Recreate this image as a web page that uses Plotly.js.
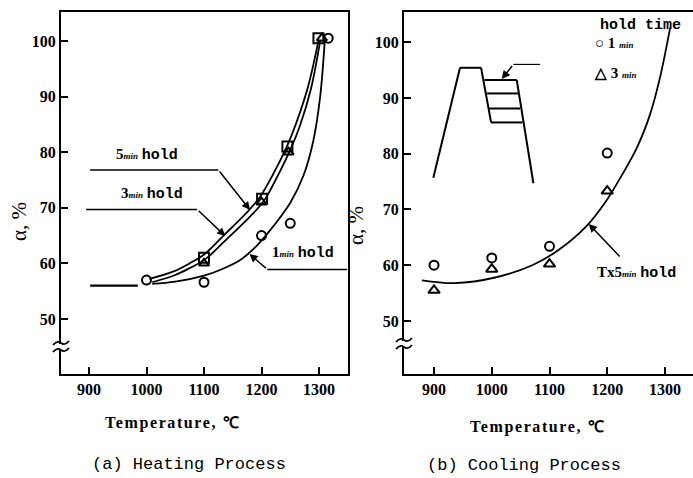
<!DOCTYPE html>
<html><head><meta charset="utf-8">
<script src="https://cdn.plot.ly/plotly-3.0.1.min.js"></script>
<style>html,body{margin:0;padding:0;background:#fff}#c{width:693px;height:478px}</style>
</head><body><div id="c"></div>
<script>
// ---- data: (a) Heating process ----
const tempTicks = [900, 1000, 1100, 1200, 1300];
const alphaTicks = [50, 60, 70, 80, 90, 100];

const heatFlatT = [902, 985];
const heatFlatA = [56, 56];

const heat5CurveT = [1005, 1046, 1075, 1099, 1134, 1174, 1197, 1220, 1244, 1261, 1281, 1299];
const heat5CurveA = [57.2, 58.5, 60.0, 61.5, 65.0, 69.1, 71.9, 76.0, 81.0, 85.4, 91.8, 100];
const heat3CurveT = [1010, 1050, 1078, 1103, 1140, 1180, 1204, 1227, 1250, 1267, 1286, 1302];
const heat3CurveA = [56.6, 57.9, 59.3, 60.8, 64.4, 68.4, 71.2, 75.5, 80.4, 84.8, 91.4, 100];
const heat1CurveT = [1010, 1050, 1100, 1130, 1163, 1192, 1220, 1250, 1273, 1290, 1302, 1310];
const heat1CurveA = [56.3, 56.7, 57.8, 58.9, 60.6, 63.2, 66.6, 70.9, 75.8, 82.0, 90, 100];

const heat1minT = [1000, 1100, 1200, 1250, 1316];
const heat1minA = [57, 56.6, 65, 67.2, 100.5];
const heat3minT = [1100, 1200, 1247, 1305];
const heat3minA = [60, 71, 80, 100.5];
const heat5minT = [1100, 1201, 1245, 1299];
const heat5minA = [61, 71.6, 81, 100.5];

// ---- data: (b) Cooling process ----
const coolCurveT = [879, 936, 1006, 1070, 1118, 1164, 1196, 1216, 1251, 1274, 1291, 1309];
const coolCurveA = [57.3, 56.8, 57.8, 60, 62.9, 67.0, 71.2, 74.5, 81.0, 87.0, 93.5, 102.6];
const cool1minT = [900, 1000, 1100, 1200];
const cool1minA = [60, 61.3, 63.4, 80.1];
const cool3minT = [900, 1000, 1100, 1200];
const cool3minA = [55.5, 59.3, 60.2, 73.3];

// ---- drawing ----
const W = 693, H = 478;
const px = v => v / W, py = v => 1 - v / H;
const SERIF = 'Liberation Serif', MONO = 'Liberation Mono';

function line(x, y, xa, ya, w) {
  return {type: 'scatter', mode: 'lines', x, y, xaxis: xa, yaxis: ya,
    line: {color: '#000', width: w || 1.8, shape: 'spline', smoothing: 1}, hoverinfo: 'skip'};
}
function pts(x, y, xa, ya, sym, sz) {
  return {type: 'scatter', mode: 'markers', x, y, xaxis: xa, yaxis: ya,
    marker: {symbol: sym, size: sz, color: '#000', line: {color: '#000', width: 2}}, hoverinfo: 'skip'};
}

const traces = [
  line(heatFlatT, heatFlatA, 'x', 'y', 2.2),
  line(heat5CurveT, heat5CurveA, 'x', 'y'),
  line(heat3CurveT, heat3CurveA, 'x', 'y'),
  line(heat1CurveT, heat1CurveA, 'x', 'y'),
  pts(heat1minT, heat1minA, 'x', 'y', 'circle-open', 9),
  pts(heat3minT, heat3minA, 'x', 'y', 'triangle-up-open', 9),
  pts(heat5minT, heat5minA, 'x', 'y', 'square-open', 10),
  line(coolCurveT, coolCurveA, 'x2', 'y2'),
  pts(cool1minT, cool1minA, 'x2', 'y2', 'circle-open', 9),
  pts(cool3minT, cool3minA, 'x2', 'y2', 'triangle-up-open', 10)
];

const tickFont = {family: SERIF, size: 16, color: '#000', weight: 'bold'};
function xax(dom, rng, anchor) {
  return {domain: dom, range: rng, anchor, tickvals: tempTicks, ticktext: tempTicks.map(String),
    ticks: 'inside', ticklen: 7, tickwidth: 2, tickcolor: '#000', showline: true, linewidth: 2,
    linecolor: '#000', mirror: true, showgrid: false, zeroline: false, tickfont: tickFont, fixedrange: true};
}
function yax(dom, rng, anchor) {
  return {domain: dom, range: rng, anchor, tickvals: alphaTicks, ticktext: alphaTicks.map(String),
    ticks: 'inside', ticklen: 7, tickwidth: 2, tickcolor: '#000', showline: true, linewidth: 2,
    linecolor: '#000', mirror: true, showgrid: false, zeroline: false, tickfont: tickFont,
    ticklabelstandoff: 0, fixedrange: true};
}
const yDom = [py(374), py(12)];

const shapes = [];
function seg(x0, y0, x1, y1, xr, yr, w) {
  shapes.push({type: 'line', xref: xr, yref: yr, x0, y0, x1, y1, line: {color: '#000', width: w || 1.5}});
}
// leader lines (a)
seg(902, 76.8, 1125, 76.8, 'x', 'y');
seg(895, 69.7, 1088, 69.7, 'x', 'y');
seg(1210, 58.9, 1349, 58.9, 'x', 'y');
// inset schematic (b)
seg(898.8, 75.7, 945, 95.4, 'x2', 'y2', 2);
seg(945, 95.4, 981.5, 95.4, 'x2', 'y2', 2);
seg(981.5, 95.4, 998.8, 85.6, 'x2', 'y2', 2);
seg(987.2, 93.2, 1043.3, 93.2, 'x2', 'y2', 2);
seg(991.9, 90.8, 1046.1, 90.8, 'x2', 'y2', 2);
seg(994.1, 88.1, 1049, 88.1, 'x2', 'y2', 2);
seg(998.8, 85.6, 1053, 85.6, 'x2', 'y2', 2);
seg(1043.3, 93.2, 1072.1, 74.7, 'x2', 'y2', 2);
seg(1083.7, 96, 1037.4, 96, 'x2', 'y2', 1.2);

// axis breaks
function brk(ax, y1, y2) {
  shapes.push({type: 'rect', xref: 'paper', yref: 'paper', x0: px(ax - 4), x1: px(ax + 4),
    y0: py(y2 - 1), y1: py(y1 + 1), fillcolor: '#fff', line: {width: 0}});
  [y1, y2].forEach(yy => {
    const p = `M ${px(ax - 8)} ${py(yy + 2)} Q ${px(ax - 4)} ${py(yy - 3)} ${px(ax)} ${py(yy)} T ${px(ax + 8)} ${py(yy - 2)}`;
    shapes.push({type: 'path', xref: 'paper', yref: 'paper', path: p, line: {color: '#000', width: 1.8}});
  });
}
brk(61, 343, 350);
brk(404, 340, 347);

const lblFont = {family: SERIF, size: 15, color: '#000', weight: 'bold'};
const mn = '<span style="font-size:9px"><i>min</i></span>';
const hold = '<span style="font-family:Liberation Mono">hold</span>';
function arrow(x, y, ax, ay, xr, yr) {
  return {x, y, ax, ay, xref: xr, yref: yr, axref: xr, ayref: yr, text: '', showarrow: true,
    arrowhead: 2, arrowsize: 1.1, arrowwidth: 1.5, arrowcolor: '#000', standoff: 0};
}
function ptxt(x, y, text, font, extra) {
  return Object.assign({x: px(x), y: py(y), xref: 'paper', yref: 'paper', xanchor: 'center', yanchor: 'middle',
    text, showarrow: false, font}, extra || {});
}
const titleFont = {family: SERIF, size: 16, color: '#000', weight: 'bold'};
const subFont = {family: MONO, size: 17, color: '#000'};
const alphaFont = {family: SERIF, size: 21, color: '#000'};
const tempText = '<span style="letter-spacing:1.6px">Temperature, ℃</span>';
const annotations = [
  {x: 1001, y: 79.5, xref: 'x', yref: 'y', text: '5' + mn + ' ' + hold, showarrow: false, font: lblFont},
  {x: 1010, y: 72.4, xref: 'x', yref: 'y', text: '3' + mn + ' ' + hold, showarrow: false, font: lblFont},
  {x: 1273, y: 61.8, xref: 'x', yref: 'y', text: '1' + mn + ' ' + hold, showarrow: false, font: lblFont},
  arrow(1180, 69.6, 1125, 76.8, 'x', 'y'),
  arrow(1137, 64.9, 1088, 69.7, 'x', 'y'),
  arrow(1179, 61.7, 1210, 58.9, 'x', 'y'),
  arrow(1017.3, 93.4, 1037.4, 96, 'x2', 'y2'),
  arrow(1168, 67.4, 1224, 61.3, 'x2', 'y2'),
  {x: 1178.8, y: 58.6, xref: 'x2', yref: 'y2', xanchor: 'left', text: 'Tx5' + mn + ' ' + hold, showarrow: false, font: lblFont},
  {x: 1331, y: 102.9, xref: 'x2', yref: 'y2', xanchor: 'right', text: 'hold time', showarrow: false,
    font: {family: MONO, size: 15, color: '#000', weight: 'bold'}},
  {x: 1176, y: 99.8, xref: 'x2', yref: 'y2', xanchor: 'left', text: '<b>○</b> 1 ' + mn, showarrow: false, font: lblFont},
  {x: 1174, y: 94.4, xref: 'x2', yref: 'y2', xanchor: 'left', text: '<b>△</b> 3 ' + mn, showarrow: false, font: lblFont},
  // axis titles
  ptxt(19, 222, 'α, %', alphaFont, {textangle: -90}),
  ptxt(356, 226, 'α, %', alphaFont, {textangle: -90}),
  ptxt(172, 423, tempText, titleFont),
  ptxt(537, 427, tempText, titleFont),
  ptxt(189, 464, '(a) Heating Process', subFont),
  ptxt(524, 465, '(b) Cooling Process', subFont)
];

const layout = {
  width: W, height: H, margin: {l: 0, r: 0, t: 0, b: 0}, showlegend: false,
  paper_bgcolor: '#fff', plot_bgcolor: 'rgba(0,0,0,0)',
  xaxis: xax([px(61), px(348)], [851.3, 1350.4], 'y'),
  yaxis: yax(yDom, [40.1, 105.2], 'x'),
  xaxis2: xax([px(404), 1], [848, 1348.5], 'y2'),
  yaxis2: yax(yDom, [40.5, 105.4], 'x2'),
  shapes, annotations
};
Plotly.newPlot('c', traces, layout, {staticPlot: true, displayModeBar: false});
</script></body></html>
